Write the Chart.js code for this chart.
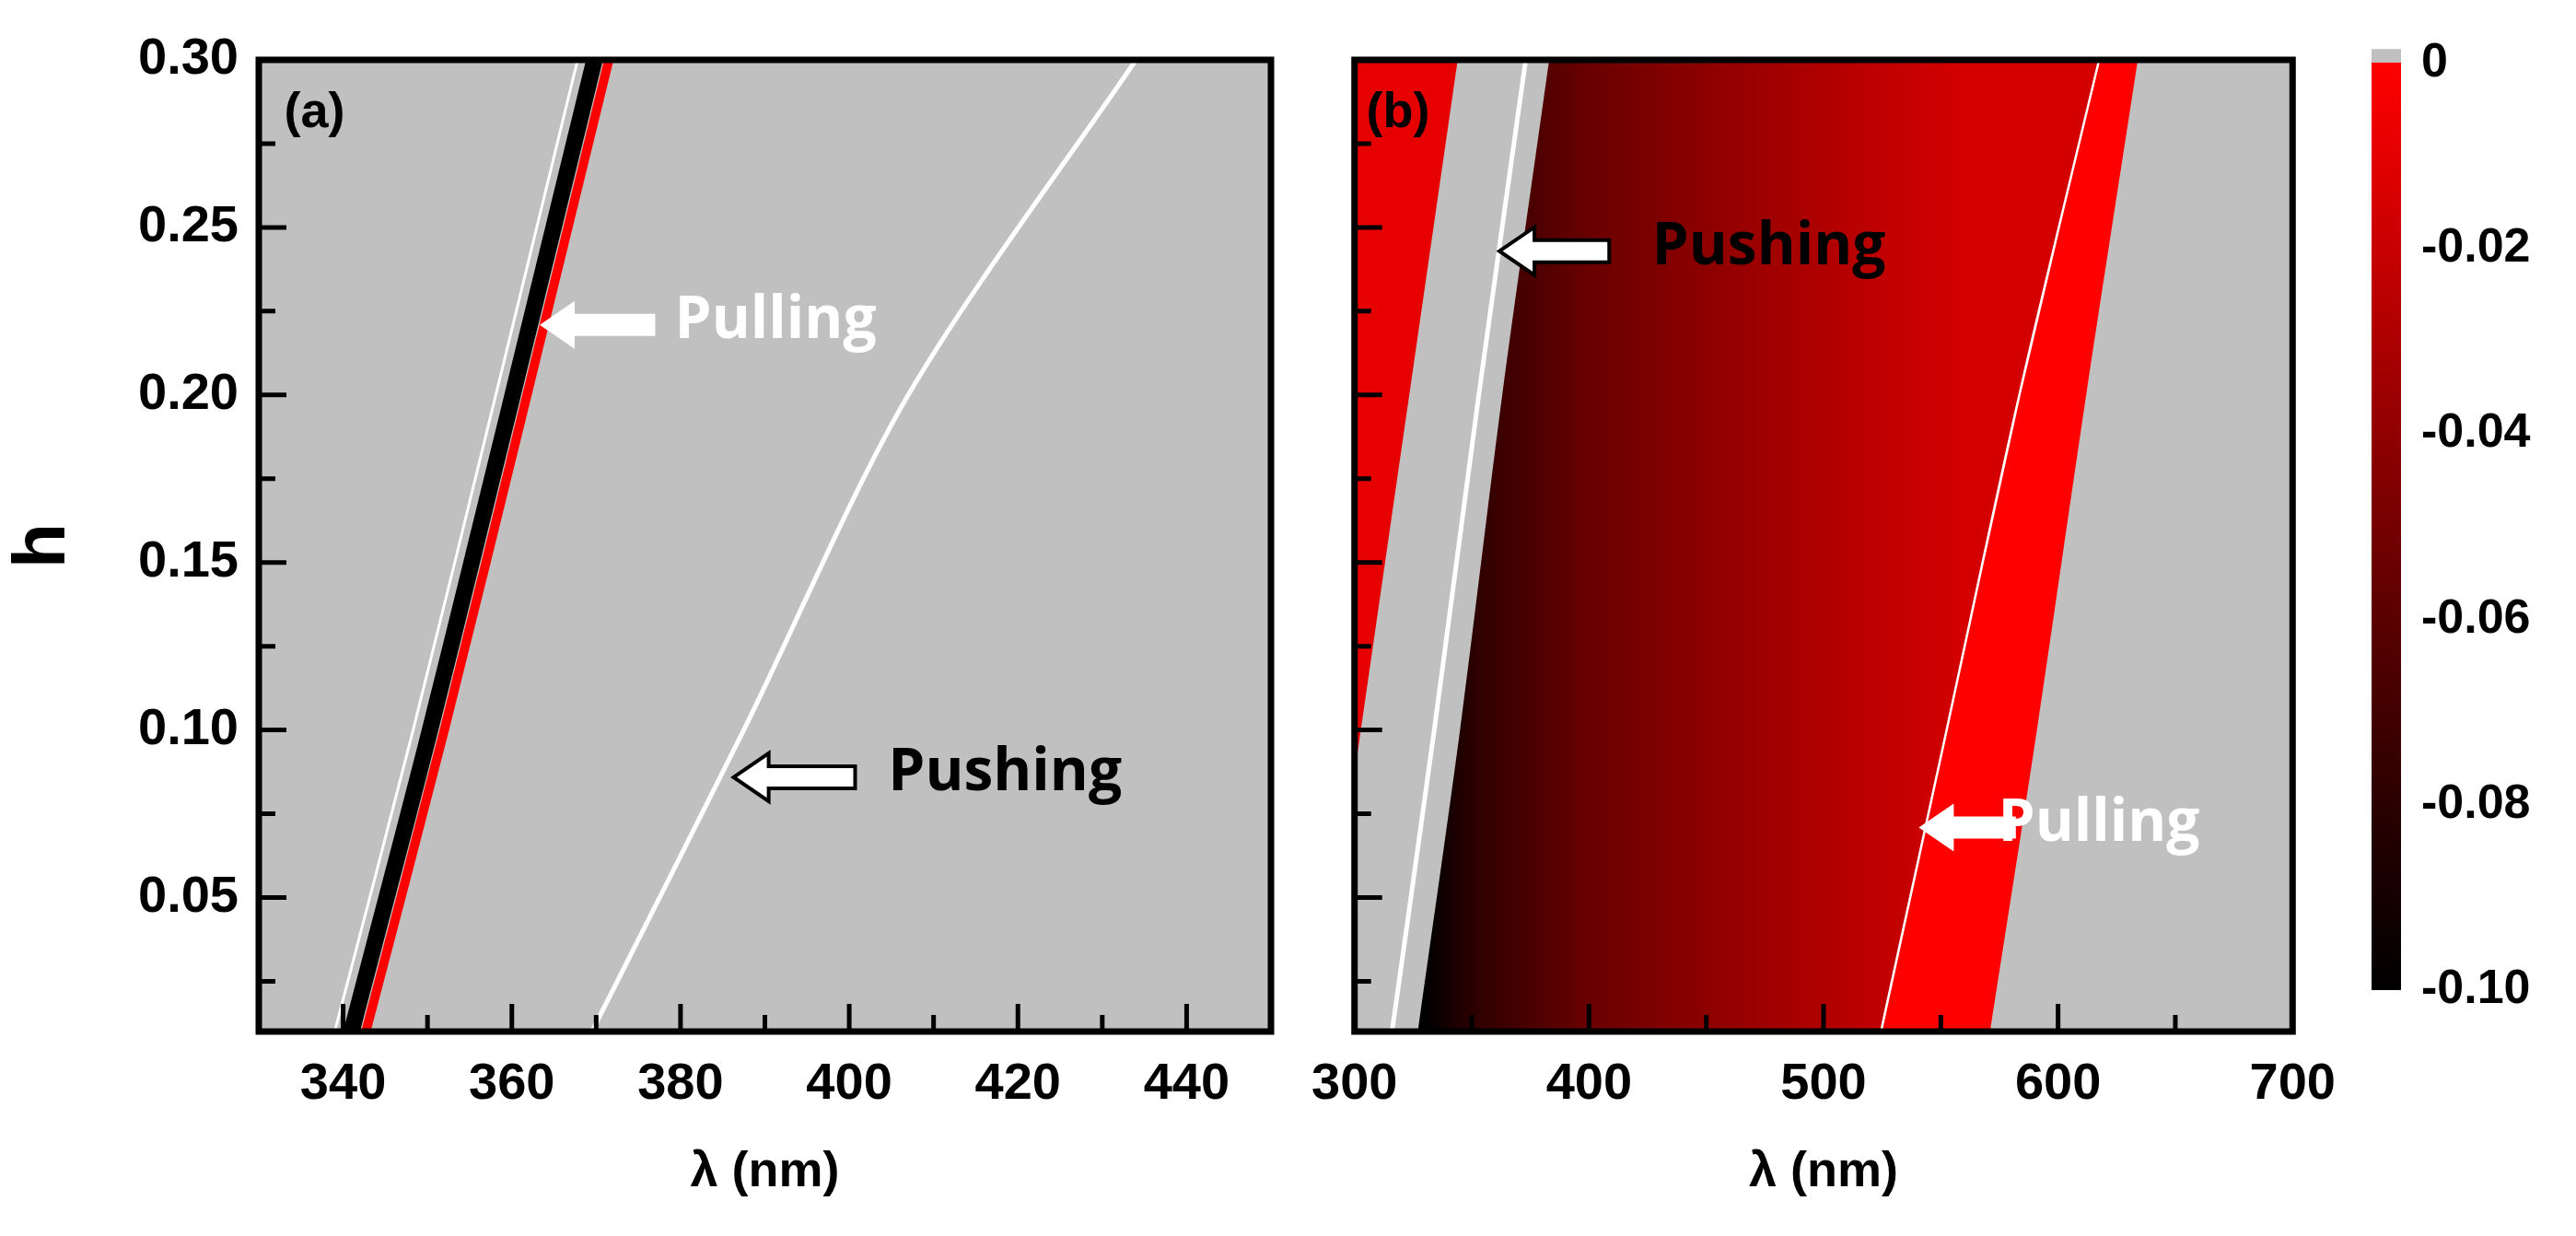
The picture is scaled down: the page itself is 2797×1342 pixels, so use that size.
<!DOCTYPE html>
<html>
<head>
<meta charset="utf-8">
<script src="https://cdn.jsdelivr.net/npm/chart.js@4.4.0/dist/chart.umd.min.js"></script>
<style>
  body { margin: 0; background: #fff; width: 2797px; height: 1342px; position: relative; overflow: hidden; }
  canvas { position: absolute; top: 0; }
</style>
</head>
<body>
<canvas id="chartA" width="1400" height="1342" style="left:0"></canvas>
<canvas id="chartB" width="1160" height="1342" style="left:1400px"></canvas>
<canvas id="bar" width="257" height="1342" style="left:2540px"></canvas>
<script>
// h values shared by all boundary curves
const hVals = [0.01, 0.10, 0.20, 0.30];

// panel (a) curves, wavelength in nm at each h
const aWhiteThin = [339.0, 348.3, 358.1, 367.8];
const aBlackLeft = [340.0, 349.3, 359.1, 368.8];
const aBlackRight = [342.0, 351.3, 361.1, 370.8];
const aRedLine = [342.7, 352.0, 361.8, 371.5];
const aPushing = [369.5, 387.5, 407.0, 434.0];

// panel (b) curves
const bLeftBandH = [0.087, 0.30];
const bLeftBandEdge = [300, 344];
const bWhiteLeft = [316, 334, 353, 373];
const bDarkLeft = [327, 345, 363, 383];
const bWhiteRight = [524, 552, 583, 617];
const bRedRight = [571, 591, 612, 634];

// tick labels
const aXTicks = [340, 360, 380, 400, 420, 440];
const bXTicks = [300, 400, 500, 600, 700];
const hTicks = [0.05, 0.10, 0.15, 0.20, 0.25, 0.30];
const barTicks = [0, -0.02, -0.04, -0.06, -0.08, -0.10];

const FONT = "'Liberation Sans', Arial, sans-serif";
const NOTE_FONT = "'Open Sans', sans-serif";

function pts(xs, hs) {
  return xs.map((x, i) => ({ x: x, y: hs[i] }));
}

function curve(xs, hs, opts) {
  return Object.assign({
    data: pts(xs, hs),
    borderWidth: 0,
    borderColor: "rgba(0,0,0,0)",
    pointRadius: 0,
    tension: 0.3,
    fill: false,
  }, opts);
}

function drawArrow(ctx, xTail, xTip, y, fill, stroke) {
  const head = 38, hh = 26, sh = 12;
  const dir = xTip < xTail ? 1 : -1;
  ctx.beginPath();
  ctx.moveTo(xTip, y);
  ctx.lineTo(xTip + dir * head, y - hh);
  ctx.lineTo(xTip + dir * head, y - sh);
  ctx.lineTo(xTail, y - sh);
  ctx.lineTo(xTail, y + sh);
  ctx.lineTo(xTip + dir * head, y + sh);
  ctx.lineTo(xTip + dir * head, y + hh);
  ctx.closePath();
  ctx.fillStyle = fill;
  ctx.fill();
  if (stroke) {
    ctx.strokeStyle = stroke;
    ctx.lineWidth = 4;
    ctx.stroke();
  }
}

// grey plot background, frame, inward ticks and notes
const framePlugin = {
  id: "frame",
  beforeDraw(chart, args, o) {
    const a = chart.chartArea, ctx = chart.ctx;
    ctx.save();
    ctx.fillStyle = "#c0c0c0";
    ctx.fillRect(a.left, a.top, a.right - a.left, a.bottom - a.top);
    ctx.restore();
  },
  afterDraw(chart, args, o) {
    const a = chart.chartArea, ctx = chart.ctx;
    const xs = chart.scales.x, ys = chart.scales.y;
    ctx.save();
    ctx.strokeStyle = "#000";
    ctx.lineWidth = 5;
    ctx.beginPath();
    (o.xMajor || []).forEach(v => { const p = xs.getPixelForValue(v); ctx.moveTo(p, a.bottom); ctx.lineTo(p, a.bottom - 30); });
    (o.xMinor || []).forEach(v => { const p = xs.getPixelForValue(v); ctx.moveTo(p, a.bottom); ctx.lineTo(p, a.bottom - 18); });
    (o.yMajor || []).forEach(v => { const p = ys.getPixelForValue(v); ctx.moveTo(a.left, p); ctx.lineTo(a.left + 30, p); });
    (o.yMinor || []).forEach(v => { const p = ys.getPixelForValue(v); ctx.moveTo(a.left, p); ctx.lineTo(a.left + 18, p); });
    ctx.stroke();
    ctx.lineWidth = 7;
    ctx.strokeRect(a.left, a.top, a.right - a.left, a.bottom - a.top);

    ctx.textBaseline = "middle";
    ctx.font = "bold 54px " + FONT;
    ctx.fillStyle = "#000";
    ctx.fillText(o.label, xs.getPixelForValue(o.labelX), ys.getPixelForValue(0.284));
    (o.notes || []).forEach(n => {
      const y = ys.getPixelForValue(n.h);
      drawArrow(ctx, xs.getPixelForValue(n.tail), xs.getPixelForValue(n.tip), y + 4, "#fff", n.outline);
      ctx.font = "bold 64px " + NOTE_FONT;
      ctx.fillStyle = n.color;
      ctx.fillText(n.text, xs.getPixelForValue(n.textX), y);
    });
    ctx.restore();
  }
};

function hAxis(width, showLabels, title) {
  return {
    type: "linear",
    min: 0.01,
    max: 0.30,
    afterBuildTicks: s => { s.ticks = hTicks.map(v => ({ value: v })); },
    afterFit: s => { s.width = width; },
    grid: { display: false, drawTicks: false },
    border: { display: false },
    ticks: {
      display: showLabels,
      padding: 22,
      color: "#000",
      font: { family: FONT, size: 56, weight: "bold" },
      callback: v => v.toFixed(2),
    },
    title: {
      display: !!title,
      text: title,
      color: "#000",
      font: { family: FONT, size: 80, weight: "bold" },
      padding: { top: 0, bottom: 0 },
    },
  };
}

function lambdaAxis(min, max, ticks) {
  return {
    type: "linear",
    min: min,
    max: max,
    afterBuildTicks: s => { s.ticks = ticks.map(v => ({ value: v })); },
    afterFit: s => { s.height = 222; },
    grid: { display: false, drawTicks: false },
    border: { display: false },
    ticks: {
      padding: 24,
      color: "#000",
      font: { family: FONT, size: 56, weight: "bold" },
    },
    title: {
      display: true,
      text: "λ (nm)",
      color: "#000",
      font: { family: FONT, size: 54, weight: "bold" },
      padding: { top: 0, bottom: 36 },
    },
  };
}

function minorOf(major, step) {
  return major.map(v => v - step);
}

new Chart(document.getElementById("chartA"), {
  type: "line",
  data: {
    datasets: [
      curve(aBlackLeft, hVals, { fill: "+1", backgroundColor: "#000" }),
      curve(aBlackRight, hVals, {}),
      curve(aRedLine, hVals, { borderColor: "#ff0000", borderWidth: 10 }),
      curve(aWhiteThin, hVals, { borderColor: "#fff", borderWidth: 3 }),
      curve(aPushing, hVals, { borderColor: "#fff", borderWidth: 5 }),
    ],
  },
  options: {
    indexAxis: "y",
    responsive: false,
    animation: false,
    devicePixelRatio: 1,
    layout: { padding: { top: 65, right: 20, left: 0, bottom: 0 } },
    plugins: {
      legend: { display: false },
      tooltip: { enabled: false },
      frame: {
        xMajor: aXTicks,
        xMinor: minorOf(aXTicks, 10).concat([450]),
        yMajor: hTicks,
        yMinor: minorOf(hTicks, 0.025),
        label: "(a)",
        labelX: 333,
        notes: [
          { text: "Pulling", textX: 379.3, h: 0.222, tail: 377, tip: 363.3, color: "#fff", outline: null },
          { text: "Pushing", textX: 404.6, h: 0.087, tail: 400.7, tip: 386.3, color: "#000", outline: "#000" },
        ],
      },
    },
    scales: {
      x: lambdaAxis(330, 450, aXTicks),
      y: hAxis(281, true, "h"),
    },
  },
  plugins: [framePlugin],
});

function darkGradient(context) {
  const chart = context.chart;
  if (!chart.chartArea) return "#800000";
  const xs = chart.scales.x;
  const g = chart.ctx.createLinearGradient(xs.getPixelForValue(330), 0, xs.getPixelForValue(560), 0);
  g.addColorStop(0, "#000000");
  g.addColorStop(0.1, "#300000");
  g.addColorStop(0.3, "#680000");
  g.addColorStop(0.55, "#920000");
  g.addColorStop(0.85, "#c00000");
  g.addColorStop(1, "#d40000");
  return g;
}

new Chart(document.getElementById("chartB"), {
  type: "line",
  data: {
    datasets: [
      curve([300, 300], bLeftBandH, { fill: "+1", backgroundColor: "#e60000", tension: 0 }),
      curve(bLeftBandEdge, bLeftBandH, { tension: 0 }),
      curve(bDarkLeft, hVals, { fill: "+1", backgroundColor: darkGradient }),
      curve(bWhiteRight, hVals, { fill: "+1", backgroundColor: "#ff0000", borderColor: "#fff", borderWidth: 5 }),
      curve(bRedRight, hVals, {}),
      curve(bWhiteLeft, hVals, { borderColor: "#fff", borderWidth: 5 }),
    ],
  },
  options: {
    indexAxis: "y",
    responsive: false,
    animation: false,
    devicePixelRatio: 1,
    layout: { padding: { top: 65, right: 22, left: 0, bottom: 0 } },
    plugins: {
      legend: { display: false },
      tooltip: { enabled: false },
      frame: {
        xMajor: bXTicks,
        xMinor: minorOf(bXTicks, 50).slice(1),
        yMajor: hTicks,
        yMinor: minorOf(hTicks, 0.025),
        label: "(b)",
        labelX: 305,
        notes: [
          { text: "Pushing", textX: 426.8, h: 0.244, tail: 408.6, tip: 361.8, color: "#000", outline: "#000" },
          { text: "Pulling", textX: 574.4, h: 0.072, tail: 582, tip: 540.6, color: "#fff", outline: null },
        ],
      },
    },
    scales: {
      x: lambdaAxis(300, 700, bXTicks),
      y: hAxis(42, false, ""),
    },
  },
  plugins: [framePlugin],
});

function barGradient(context) {
  const chart = context.chart;
  if (!chart.chartArea) return "#800000";
  const ys = chart.scales.y;
  const g = chart.ctx.createLinearGradient(0, ys.getPixelForValue(-0.1), 0, ys.getPixelForValue(0));
  g.addColorStop(0, "#000000");
  g.addColorStop(0.2, "#2a0000");
  g.addColorStop(0.4, "#5a0000");
  g.addColorStop(0.6, "#900000");
  g.addColorStop(0.8, "#c80000");
  g.addColorStop(1, "#ff0000");
  return g;
}

new Chart(document.getElementById("bar"), {
  type: "bar",
  data: {
    labels: ["scale"],
    datasets: [
      { data: [[-0.1, 0]], backgroundColor: barGradient, grouped: false, barPercentage: 1, categoryPercentage: 1 },
      { data: [[0, 0.0015]], backgroundColor: "#c0c0c0", grouped: false, barPercentage: 1, categoryPercentage: 1 },
    ],
  },
  options: {
    responsive: false,
    animation: false,
    devicePixelRatio: 1,
    layout: { padding: { top: 50, left: 35, right: 0, bottom: 267 } },
    plugins: { legend: { display: false }, tooltip: { enabled: false } },
    scales: {
      x: { display: false },
      y: {
        position: "right",
        min: -0.1,
        max: 0.0015,
        afterBuildTicks: s => { s.ticks = barTicks.map(v => ({ value: v })); },
        afterFit: s => { s.width = 190; },
        grid: { display: false, drawTicks: false },
        border: { display: false },
        ticks: {
          padding: 22,
          color: "#000",
          font: { family: FONT, size: 52, weight: "bold" },
          callback: v => (v === 0 ? "0" : v.toFixed(2)),
        },
      },
    },
  },
});
</script>
</body>
</html>
